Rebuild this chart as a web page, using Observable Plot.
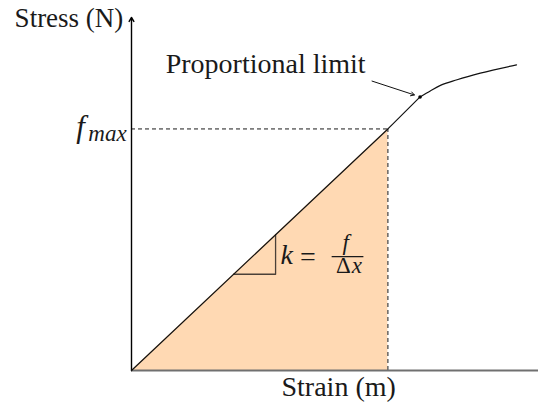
<!DOCTYPE html>
<html>
<head>
<meta charset="utf-8">
<script src="https://cdn.jsdelivr.net/npm/d3@7"></script>
<script src="https://cdn.jsdelivr.net/npm/@observablehq/plot@0.6"></script>
<style>
  html, body { margin: 0; padding: 0; background: #fff; }
</style>
</head>
<body>
<div id="chart"></div>
<script>
// Stress–strain curve (arbitrary units)
const strain = [0, 6.30, 7.09, 7.35, 7.59, 8.00, 8.57, 9.46];
const stress = [0, 7.32, 8.29, 8.48, 8.64, 8.81, 9.01, 9.26];
const fmaxIndex = 1;        // point where the shaded (elastic) area ends
const propLimitIndex = 2;   // proportional limit
const slopeTriStrain = [2.51, 3.54];
const axisLabels = ["Strain (m)", "Stress (N)"];
const fmaxLabel = ["f", "max"];
const annotation = "Proportional limit";

const pts = strain.map((x, i) => ({x, y: stress[i]}));
const elastic = pts.slice(0, propLimitIndex + 1);
const plastic = pts.slice(propLimitIndex);
const shaded = pts.slice(0, fmaxIndex + 1);
const fx = strain[fmaxIndex], fy = stress[fmaxIndex];
const k = fy / fx;
const tri = [
  {x: slopeTriStrain[0], y: k * slopeTriStrain[0]},
  {x: slopeTriStrain[1], y: k * slopeTriStrain[0]},
  {x: slopeTriStrain[1], y: k * slopeTriStrain[1]}
];
const pl = pts[propLimitIndex];

const serif = "'Liberation Serif', 'DejaVu Serif', serif";
const ink = "#1a1a1a";

const chart = Plot.plot({
  width: 538,
  height: 406,
  margin: 0,
  x: {domain: [0, 10], range: [131, 538], axis: null},
  y: {domain: [0, 10], range: [370, 40], axis: null},
  style: {background: "#fff", fontFamily: serif},
  marks: [
    Plot.areaY(shaded, {x: "x", y: "y", fill: "#ffd9b3"}),
    Plot.ruleY([fy], {x1: 0, x2: fx, stroke: ink, strokeWidth: 1, strokeDasharray: "4,3"}),
    Plot.ruleX([fx], {y1: 0, y2: fy, stroke: ink, strokeWidth: 1, strokeDasharray: "4,3"}),
    Plot.line(tri, {x: "x", y: "y", stroke: "#4a4038", strokeWidth: 1.3}),
    Plot.ruleY([0], {x1: 0, x2: 10, stroke: "#707070", strokeWidth: 2}),
    Plot.arrow([0], {x1: 0, y1: 0, x2: 0, y2: 10.7, stroke: "#000", strokeWidth: 1.4, headLength: 5}),
    Plot.line(elastic, {x: "x", y: "y", stroke: "#111", strokeWidth: 1.2}),
    Plot.line(plastic, {x: "x", y: "y", stroke: "#111", strokeWidth: 1.2, curve: "monotone-x"}),
    Plot.dot([pl], {x: "x", y: "y", r: 1.8, fill: "#000"}),
    Plot.arrow([pl], {x1: 5.91, y1: 8.77, x2: d => d.x - 0.14, y2: d => d.y + 0.06, stroke: "#111", strokeWidth: 1, headLength: 6}),
    // Labels
    Plot.text([axisLabels[1]], {x: -0.2, y: 10.42, text: d => d, textAnchor: "end", lineAnchor: "bottom", fontFamily: serif, fontSize: 27, fill: ink}),
    Plot.text([annotation], {x: 0.84, y: 9.03, text: d => d, textAnchor: "start", lineAnchor: "bottom", fontFamily: serif, fontSize: 28, fill: ink}),
    Plot.text([axisLabels[0]], {x: 5.09, y: -0.76, text: d => d, textAnchor: "middle", lineAnchor: "bottom", fontFamily: serif, fontSize: 28, fill: ink}),
    Plot.text([fmaxLabel[0]], {x: -1.36, y: 7.09, text: d => d, textAnchor: "start", lineAnchor: "bottom", fontFamily: serif, fontStyle: "italic", fontSize: 31, fill: ink}),
    Plot.text([fmaxLabel[1]], {x: -0.12, y: 6.94, text: d => d, textAnchor: "end", lineAnchor: "bottom", fontFamily: serif, fontStyle: "italic", fontSize: 23, fill: ink}),
    // k = f / Δx
    Plot.text(["k"], {x: 3.66, y: 3.24, text: d => d, textAnchor: "start", lineAnchor: "bottom", fontFamily: serif, fontStyle: "italic", fontSize: 28, fill: ink}),
    Plot.text(["="], {x: 4.14, y: 3.18, text: d => d, textAnchor: "start", lineAnchor: "bottom", fontFamily: serif, fontSize: 28, fill: ink}),
    Plot.ruleY([3.45], {x1: 4.93, x2: 5.71, stroke: ink, strokeWidth: 1.3}),
    Plot.text(["f"], {x: 5.26, y: 3.64, text: d => d, textAnchor: "middle", lineAnchor: "bottom", fontFamily: serif, fontStyle: "italic", fontSize: 23, fill: ink}),
    Plot.text(["Δ"], {x: 5.39, y: 2.94, text: d => d, textAnchor: "end", lineAnchor: "bottom", fontFamily: serif, fontSize: 23, fill: ink}),
    Plot.text(["x"], {x: 5.41, y: 2.94, text: d => d, textAnchor: "start", lineAnchor: "bottom", fontFamily: serif, fontStyle: "italic", fontSize: 23, fill: ink})
  ]
});
document.getElementById("chart").appendChild(chart);
</script>
</body>
</html>
